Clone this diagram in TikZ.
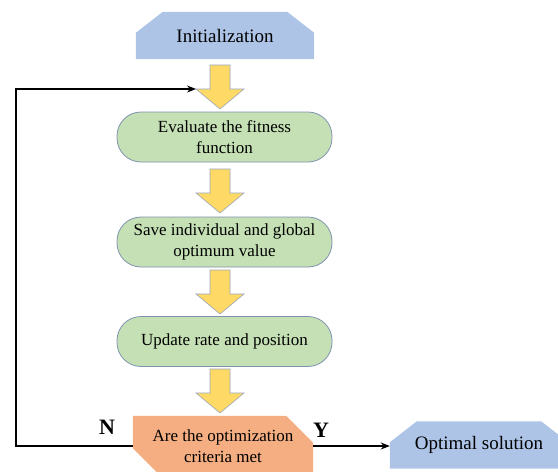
\documentclass[tikz,border=0pt]{standalone}
\usepackage{fontspec}
\setmainfont{Liberation Serif}
\usetikzlibrary{backgrounds,arrows.meta}

\definecolor{capblue}{HTML}{ADC4E7}
\definecolor{procgreen}{HTML}{C4E0B4}
\definecolor{boxline}{HTML}{7F93B0}
\definecolor{arrowyellow}{HTML}{FFD966}
\definecolor{arrowline}{HTML}{9AA6BC}
\definecolor{decorange}{HTML}{F4AE82}

% downward block arrow: #1 = centre x, #2 = top y
\newcommand\flowblock[2]{%
  \filldraw[blockarrow] (#1-10,#2) -- (#1+10,#2) -- (#1+10,#2+24) -- (#1+24,#2+24)
    -- (#1,#2+44) -- (#1-24,#2+24) -- (#1-10,#2+24) -- cycle;}

\begin{document}
\begin{tikzpicture}[x=1pt,y=-1pt,
  every node/.style={align=center, inner sep=0pt},
  terminal/.style={minimum width=178pt, minimum height=47pt,
    font=\fontsize{19}{23}\selectfont},
  process/.style={draw=boxline, line width=0.8pt, fill=procgreen,
    rounded corners=24pt, minimum width=215pt, minimum height=50pt,
    font=\fontsize{17}{21}\selectfont},
  decision/.style={minimum width=180pt, minimum height=60pt,
    font=\fontsize{17}{21}\selectfont},
  blockarrow/.style={fill=arrowyellow, draw=arrowline, line width=0.6pt},
  flowline/.style={line width=1.6pt, -{Stealth[length=9pt,width=7pt]}},
  yesno/.style={font=\bfseries\fontsize{22}{26}\selectfont}
]
\useasboundingbox (0,0) rectangle (558,472);

% flow nodes
\node[terminal] (init) at (225,35.5) {Initialization};
\node[process] (fit) at (224.5,137) {Evaluate the fitness\\function};
\node[process] (save) at (224.5,242) {Save individual and global\\optimum value};
\node[process] (upd) at (224.5,341.5) {Update rate and position};
\node[decision] (crit) at (223,446) {Are the optimization\\criteria met};
\node[terminal] (opt) at (479,445) {Optimal solution};

% N / Y branch labels
\node[yesno] (no) at (107,427) {N};
\node[yesno] (yes) at (321,430) {Y};

% shaped backgrounds for terminals and the decision
\begin{scope}[on background layer]
  \clip (0,0) rectangle (558,472);
  \fill[capblue] (init.south west) -- ([yshift=-21pt]init.north west)
    -- ([xshift=27pt]init.north west) -- ([xshift=-27pt]init.north east)
    -- ([yshift=-21pt]init.north east) -- (init.south east) -- cycle;
  \fill[capblue] (opt.south west) -- ([yshift=-21pt]opt.north west)
    -- ([xshift=27pt]opt.north west) -- ([xshift=-27pt]opt.north east)
    -- ([yshift=-21pt]opt.north east) -- (opt.south east) -- cycle;
  \fill[decorange] (crit.north west) -- ([xshift=-27pt]crit.north east)
    -- ([yshift=-27pt]crit.north east) -- (crit.south east)
    -- ([xshift=28pt]crit.south west) -- ([yshift=28pt]crit.south west) -- cycle;
\end{scope}

% block arrows between the steps
\flowblock{220}{65}
\flowblock{220}{169}
\flowblock{220}{270}
\flowblock{220}{369}
\coordinate (loopin) at (196,89);

% loop back on N, exit on Y
\draw[flowline] (crit.west) -- (16,446) |- (loopin);
\draw[flowline] (crit.east) -- (crit.east -| opt.west);
\end{tikzpicture}
\end{document}
